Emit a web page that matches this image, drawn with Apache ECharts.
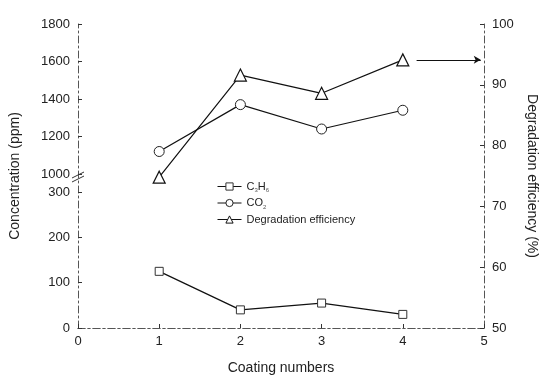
<!DOCTYPE html>
<html>
<head>
<meta charset="utf-8">
<script src="https://cdn.jsdelivr.net/npm/echarts@6/dist/echarts.min.js"></script>
<style>
  html, body { margin: 0; padding: 0; background: #fff; }
  #chart { width: 550px; height: 379px; }
</style>
</head>
<body>
<div id="chart"></div>
<script>
// data
var coating = [1, 2, 3, 4]
var c3h6 = [125, 40, 55, 30]
var co2 = [1120, 1370, 1240, 1340]
var efficiency = [74.8, 91.6, 88.6, 94.1]
var upperTicks = [1000, 1800, 200]
var lowerTicks = [0, 300, 100]
var rightTicks = [50, 100, 10]

function pairs(xs, ys) {
  return xs.map(function (x, i) { return [x, ys[i]] })
}

var font = 'Liberation Sans'
var axisDash = { color: '#555', width: 1, type: [7, 3, 2, 3] }
var labelStyle = { color: '#222', fontSize: 13, fontFamily: font, formatter: function (v) { return String(v) } }

var chart = echarts.init(document.getElementById('chart'))

var option = {
  animation: false,
  backgroundColor: '#fff',
  grid: [
    { left: 78, right: 66, top: 24, height: 150 },
    { left: 78, right: 66, top: 192, bottom: 51 },
    { left: 78, right: 66, top: 24, bottom: 51 }
  ],
  legend: {
    orient: 'vertical',
    left: 212,
    top: 176,
    itemWidth: 24,
    itemHeight: 9,
    itemGap: 4,
    data: ['C3H6', 'CO2', 'Degradation efficiency'],
    itemStyle: { borderWidth: 1 },
    lineStyle: { width: 1 },
    formatter: function (name) {
      if (name === 'C3H6') return '{a|C}{s|3}{a|H}{s|6}'
      if (name === 'CO2') return '{a|CO}{s|2}'
      return '{a|' + name + '}'
    },
    textStyle: {
      fontFamily: font,
      color: '#222',
      rich: {
        a: { fontSize: 11, fontFamily: font, color: '#222', lineHeight: 14 },
        s: { fontSize: 6, fontFamily: font, color: '#555', verticalAlign: 'bottom', lineHeight: 10, padding: [6, 0, 0, 0] }
      }
    }
  },
  xAxis: [
    { gridIndex: 0, type: 'value', min: 0, max: 5, interval: 1, show: false },
    {
      gridIndex: 1, type: 'value', min: 0, max: 5, interval: 1,
      axisLine: { show: true, lineStyle: axisDash },
      axisTick: { show: true, inside: true, length: 4, lineStyle: { color: '#333' } },
      axisLabel: Object.assign({ margin: 7 }, labelStyle),
      splitLine: { show: false },
      name: 'Coating numbers',
      nameLocation: 'middle',
      nameGap: 33,
      nameTextStyle: { color: '#222', fontSize: 14, fontFamily: font }
    },
    {
      gridIndex: 2, type: 'value', min: 0, max: 5, position: 'top',
      axisLine: { show: true, lineStyle: axisDash },
      axisTick: { show: false }, axisLabel: { show: false }, splitLine: { show: false }
    }
  ],
  yAxis: [
    {
      gridIndex: 0, type: 'value', min: upperTicks[0], max: upperTicks[1], interval: upperTicks[2],
      axisLine: { show: false },
      axisTick: { show: true, inside: true, length: 4, lineStyle: { color: '#333' } },
      axisLabel: Object.assign({ margin: 8 }, labelStyle),
      splitLine: { show: false }
    },
    {
      gridIndex: 1, type: 'value', min: lowerTicks[0], max: lowerTicks[1], interval: lowerTicks[2],
      axisLine: { show: false },
      axisTick: { show: true, inside: true, length: 4, lineStyle: { color: '#333' } },
      axisLabel: Object.assign({ margin: 8 }, labelStyle),
      splitLine: { show: false }
    },
    {
      gridIndex: 2, type: 'value', min: 0, max: 1, position: 'left',
      axisLine: { show: true, lineStyle: axisDash },
      axisTick: { show: false }, axisLabel: { show: false }, splitLine: { show: false },
      name: 'Concentration (ppm)',
      nameLocation: 'middle',
      nameGap: 56,
      nameTextStyle: { color: '#222', fontSize: 14, fontFamily: font }
    },
    {
      gridIndex: 2, type: 'value', min: rightTicks[0], max: rightTicks[1], interval: rightTicks[2], position: 'right',
      axisLine: { show: true, lineStyle: axisDash },
      axisTick: { show: true, inside: true, length: 4, lineStyle: { color: '#333' } },
      axisLabel: Object.assign({ margin: 8 }, labelStyle),
      splitLine: { show: false },
      name: 'Degradation efficiency (%)',
      nameLocation: 'middle',
      nameRotate: -90,
      nameGap: 40,
      nameTextStyle: { color: '#222', fontSize: 14, fontFamily: font }
    }
  ],
  series: [
    {
      name: 'C3H6', type: 'line', xAxisIndex: 1, yAxisIndex: 1,
      data: pairs(coating, c3h6),
      symbol: 'rect', symbolSize: 8,
      lineStyle: { color: '#111', width: 1.2 },
      itemStyle: { color: '#fff', borderColor: '#333', borderWidth: 1 }
    },
    {
      name: 'CO2', type: 'line', xAxisIndex: 0, yAxisIndex: 0,
      data: pairs(coating, co2), clip: false,
      symbol: 'circle', symbolSize: 10,
      lineStyle: { color: '#111', width: 1.2 },
      itemStyle: { color: '#fff', borderColor: '#222', borderWidth: 1 }
    },
    {
      name: 'Degradation efficiency', type: 'line', xAxisIndex: 2, yAxisIndex: 3,
      data: pairs(coating, efficiency),
      symbol: 'triangle', symbolSize: 12,
      lineStyle: { color: '#111', width: 1.2 },
      itemStyle: { color: '#fff', borderColor: '#111', borderWidth: 1.2 },
      markLine: {
        silent: true,
        symbol: ['none', 'arrow'],
        symbolSize: [6, 7],
        label: { show: false },
        lineStyle: { color: '#111', width: 1, type: 'solid' },
        data: [[{ coord: [4.17, efficiency[3]] }, { coord: [4.96, efficiency[3]] }]]
      }
    }
  ],
  graphic: [
    { type: 'line', shape: { x1: 72, y1: 178, x2: 84, y2: 172 }, style: { stroke: '#333', lineWidth: 1 } },
    { type: 'line', shape: { x1: 72, y1: 182, x2: 84, y2: 176 }, style: { stroke: '#333', lineWidth: 1 } }
  ]
}

chart.setOption(option)
</script>
</body>
</html>
